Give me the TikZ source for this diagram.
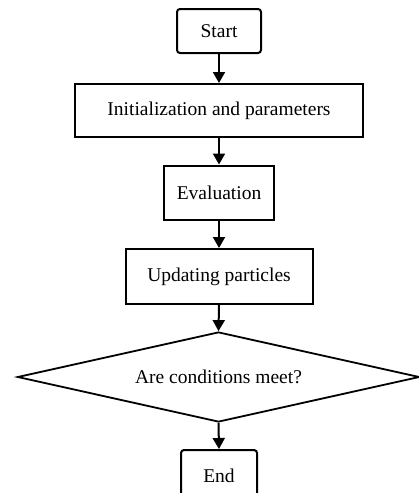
\documentclass[tikz,border=0pt]{standalone}
\usepackage{fontspec}
\setmainfont{Liberation Serif}
\usetikzlibrary{shapes.geometric, arrows.meta}

\begin{document}
\begin{tikzpicture}[x=1pt, y=1pt,
    every node/.style={font=\fontsize{19.5}{23}\selectfont},
    box/.style={draw, line width=2pt, inner sep=0pt},
    terminal/.style={box, rounded corners=3pt},
    decision/.style={draw, diamond, aspect=4.5, line width=1.8pt, inner sep=0pt},
    flow/.style={line width=2pt, -{Triangle[width=12pt, length=11pt]}}]
    % Page frame
    \clip (0,0) rectangle (419,-493);

    % Steps of the flow chart
    \node[terminal, minimum width=84pt, minimum height=44pt] (start) at (219,-31) {Start};
    \node[box, minimum width=288pt, minimum height=53pt] (init) at (219,-110.5) {Initialization and parameters};
    \node[box, minimum width=110pt, minimum height=54pt] (eval) at (219,-192.5) {Evaluation};
    \node[box, minimum width=187pt, minimum height=55pt] (update) at (219,-276.5) {Updating particles};
    \node[decision, minimum width=402pt, minimum height=90pt] (cond) at (218.5,-377) {Are conditions meet?};
    \node[terminal, minimum width=76pt, minimum height=52pt] (finish) at (219,-476) {End};

    % Connectors
    \draw[flow] (start.south) -- (init.north);
    \draw[flow] (init.south) -- (eval.north);
    \draw[flow] (eval.south) -- (update.north);
    \draw[flow] (update.south) -- (cond.north);
    \draw[flow] (cond.south) -- (finish.north);
\end{tikzpicture}
\end{document}
